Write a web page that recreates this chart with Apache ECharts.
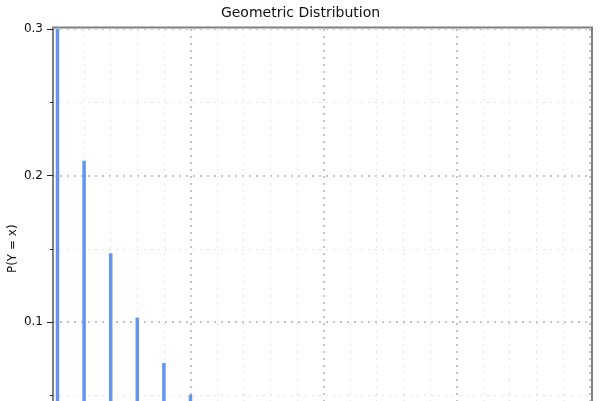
<!DOCTYPE html>
<html><head><meta charset="utf-8">
<script src="https://cdn.jsdelivr.net/npm/echarts@6/dist/echarts.min.js"></script>
<style>html,body{margin:0;padding:0;background:#fff}#c{width:601px;height:401px}</style>
</head><body><div id="c"></div>
<script>
// Data (values below ~0.047 are off-screen, estimated)
const xValues = [0, 1, 2, 3, 4, 5, 6, 7, 8, 9, 10, 11, 12, 13, 14, 15, 16, 17, 18, 19, 20];
const probabilities = [0.3, 0.21, 0.147, 0.1029, 0.072, 0.0504, 0.0353, 0.0247, 0.0173, 0.0121, 0.0085,
  0.0059, 0.0042, 0.0029, 0.002, 0.0014, 0.001, 0.0007, 0.0005, 0.0003, 0.0002];
const yTickValues = [0.1, 0.2, 0.3];
const titleText = 'Geometric Distribution';
const yAxisTitle = 'P(Y = x)';

const FONT = 'DejaVu Sans';
const chart = echarts.init(document.getElementById('c'), null, {renderer: 'canvas'});
const seriesData = xValues.map((x, i) => [x, probabilities[i]]);

const gridCommon = {outerBoundsMode: 'none', containLabel: false};
chart.setOption({
  animation: false,
  backgroundColor: '#ffffff',
  title: {
    text: titleText, left: 'center', top: 1,
    textStyle: {fontFamily: FONT, fontSize: 14, fontWeight: 'normal', color: '#111'}
  },
  grid: [
    Object.assign({left: 53, right: 9, top: 27.5, height: 441, show: true, borderColor: '#808080', borderWidth: 2, backgroundColor: 'transparent'}, gridCommon),
    Object.assign({left: 53, right: 9, top: 29, height: 439.5}, gridCommon),
    Object.assign({left: 57.5, right: 11.5, top: 29, height: 439.5}, gridCommon)
  ],
  xAxis: [
    {gridIndex: 0, type: 'value', show: false, min: 0, max: 1},
    {gridIndex: 1, type: 'value', show: false, min: 0, max: 1},
    {gridIndex: 2, type: 'value', min: 0, max: 20, interval: 5,
      axisLine: {show: false}, axisTick: {show: false}, axisLabel: {show: false},
      splitLine: {show: true, lineStyle: {color: '#c4c4c4', width: 2, type: [2, 5]}},
      minorTick: {show: false, splitNumber: 5},
      minorSplitLine: {show: true, lineStyle: {color: '#e4e4e4', width: 1, type: [2, 5]}}
    }
  ],
  yAxis: [
    {gridIndex: 0, type: 'value', show: false, min: 0, max: 1},
    {gridIndex: 1, type: 'value', min: 0, max: 0.3, interval: 0.1,
      name: yAxisTitle, nameLocation: 'middle', nameGap: 34, nameMoveOverlap: false,
      nameTextStyle: {fontFamily: FONT, fontSize: 12, color: '#111'},
      axisLine: {show: true, lineStyle: {color: '#808080', width: 2}},
      axisTick: {show: true, inside: false, length: 6, lineStyle: {color: '#222', width: 1}},
      minorTick: {show: true, splitNumber: 2, length: 3, lineStyle: {color: '#222', width: 1}},
      axisLabel: {fontFamily: FONT, fontSize: 12, color: '#111', margin: 10,
        formatter: v => (yTickValues.some(t => Math.abs(t - v) < 1e-9) ? v.toFixed(1) : '')},
      splitLine: {show: true, lineStyle: {color: '#c4c4c4', width: 2, type: [2, 5]}},
      minorSplitLine: {show: true, lineStyle: {color: '#e4e4e4', width: 1, type: [2, 5]}}
    },
    {gridIndex: 2, type: 'value', show: false, min: 0, max: 0.3}
  ],
  series: [{
    type: 'bar', xAxisIndex: 2, yAxisIndex: 2, data: seriesData,
    barWidth: 3.5, clip: false,
    itemStyle: {color: '#6495ED'}
  }]
});
</script></body></html>
